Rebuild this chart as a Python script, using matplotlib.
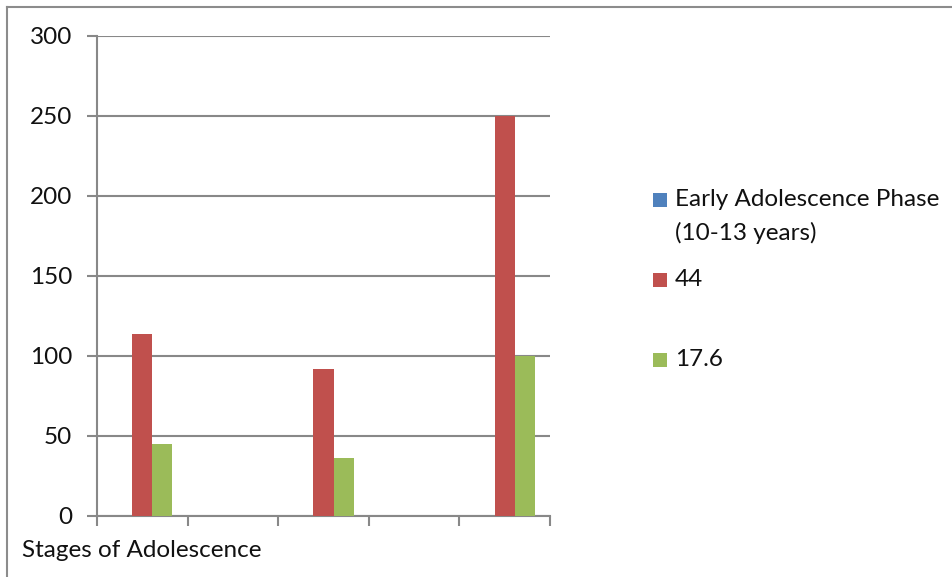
import matplotlib
matplotlib.use("agg")
import matplotlib.pyplot as plt
import numpy as np
from matplotlib.lines import Line2D
from matplotlib.patches import Rectangle

# Series values per stage (five category slots, empty ones at zero)
series_names = ["Early Adolescence Phase\n(10-13 years)", "44", "17.6"]
early_phase = [0, 0, 0, 0, 0]
values_44 = [114, 0, 92, 0, 250]
values_17_6 = [45, 0, 36, 0, 100]
category_labels = ["", "", "", "", ""]
y_ticks = [0, 50, 100, 150, 200, 250, 300]
x_title = "Stages of Adolescence"

colors = ["#4F81BD", "#C0504D", "#9BBB59"]
grid_color = "#888888"
text_color = "#111111"
fs = 17.5

plt.rcParams["font.family"] = ["Lato", "DejaVu Sans"]

W, H, DPI = 953, 577, 100
fig = plt.figure(figsize=(W / DPI, H / DPI), dpi=DPI)
ax = fig.add_axes([97 / W, 1 - 516 / H, (550 - 97) / W, (516 - 36) / H])

x = np.arange(len(category_labels))
width = 1 / 4.5
for i, (vals, col) in enumerate(zip([early_phase, values_44, values_17_6], colors)):
    ax.bar(x + (i - 1) * width, vals, width, color=col, linewidth=0, zorder=3)

ax.set_xlim(-0.5, len(category_labels) - 0.5)
ax.set_ylim(0, 300)
ax.set_yticks(y_ticks)
ax.set_yticklabels([str(t) for t in y_ticks], fontsize=fs, color=text_color)
ax.set_xticks(np.arange(len(category_labels) + 1) - 0.5)
ax.set_xticklabels([])
ax.yaxis.grid(True, color=grid_color, linewidth=1.5, zorder=0)
ax.set_axisbelow(True)
ax.tick_params(axis="y", length=7, width=1.5, color=grid_color, pad=11)
ax.tick_params(axis="x", length=7, width=1.5, color=grid_color)
for side in ["top", "right"]:
    ax.spines[side].set_visible(False)
for side in ["left", "bottom"]:
    ax.spines[side].set_color(grid_color)
    ax.spines[side].set_linewidth(1.5)

fig.text(22 / W, 1 - 557 / H, x_title, fontsize=fs, color=text_color, va="baseline")

# legend drawn by hand, Excel-style spacing
legend_rows = [206, 286, 366]
for name, col, base in zip(series_names, colors, legend_rows):
    fig.add_artist(Rectangle((653 / W, 1 - (base + 1) / H), 14 / W, 14 / H,
                             transform=fig.transFigure, facecolor=col, linewidth=0))
    lines = name.split("\n")
    for k, line in enumerate(lines):
        fig.text(675 / W, 1 - (base + k * 34) / H, line, fontsize=fs,
                 color=text_color, va="baseline")

# outer chart border (top and left edges)
fig.add_artist(Line2D([7 / W, 1.0], [1 - 7 / H, 1 - 7 / H], color="#8c8c8c",
                      linewidth=1.5, transform=fig.transFigure))
fig.add_artist(Line2D([7 / W, 7 / W], [0.0, 1 - 7 / H], color="#8c8c8c",
                      linewidth=1.5, transform=fig.transFigure))

fig.savefig("out.png", dpi=DPI)
